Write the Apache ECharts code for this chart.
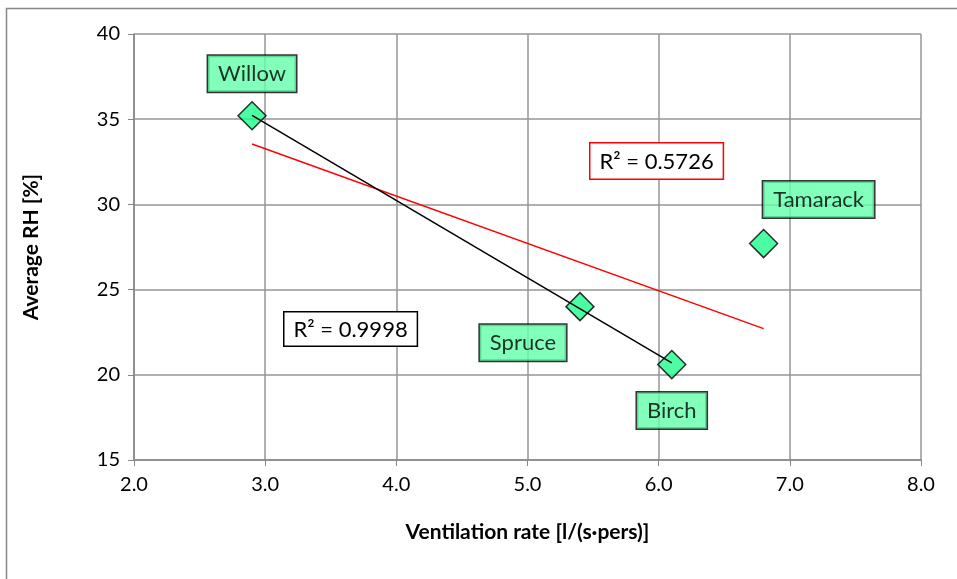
<!DOCTYPE html>
<html>
<head>
<meta charset="utf-8">
<script src="https://cdn.jsdelivr.net/npm/echarts@6/dist/echarts.min.js"></script>
<style>html,body{margin:0;padding:0;background:#fff}#c{width:957px;height:579px}</style>
</head>
<body>
<div id="c"></div>
<script>
// Data
const names = ['Willow', 'Spruce', 'Birch', 'Tamarack'];
const ventRate = [2.9, 5.4, 6.1, 6.8];
const avgRH = [35.2, 24.0, 20.6, 27.7];
const fitBlackNames = ['Willow', 'Spruce', 'Birch'];
const r2Black = 'R² = 0.9998';
const r2Red = 'R² = 0.5726';

// Label offsets (style)
const labelOffsets = { Willow: [0, -42], Spruce: [-57, 36], Birch: [0, 46], Tamarack: [55, -44] };

function linFit(xs, ys) {
  const n = xs.length;
  const mx = xs.reduce((a, b) => a + b, 0) / n;
  const my = ys.reduce((a, b) => a + b, 0) / n;
  let sxy = 0, sxx = 0;
  for (let i = 0; i < n; i++) { sxy += (xs[i] - mx) * (ys[i] - my); sxx += (xs[i] - mx) ** 2; }
  const b = sxy / sxx, a = my - b * mx;
  const x0 = Math.min(...xs), x1 = Math.max(...xs);
  return [[x0, a + b * x0], [x1, a + b * x1]];
}
const bIdx = fitBlackNames.map(n => names.indexOf(n));
const blackLine = linFit(bIdx.map(i => ventRate[i]), bIdx.map(i => avgRH[i]));
const redLine = linFit(ventRate, avgRH);

const FONT = 'Lato, "Open Sans", sans-serif';
const chart = echarts.init(document.getElementById('c'));
chart.setOption({
  animation: false,
  grid: { left: 134, right: 36, top: 34, bottom: 119 },
  xAxis: {
    type: 'value', min: 2, max: 8, interval: 1,
    name: 'Ventilation rate [l/(s·pers)]', nameLocation: 'middle', nameGap: 62,
    nameTextStyle: { fontFamily: FONT, fontWeight: 'bold', fontSize: 21, color: '#000' },
    axisLine: { lineStyle: { color: '#868686', width: 1.5 } },
    axisTick: { show: true, length: 6, lineStyle: { color: '#868686' } },
    axisLabel: { fontFamily: FONT, fontSize: 20, color: '#000', margin: 15, formatter: v => v.toFixed(1) },
    splitLine: { show: true, lineStyle: { color: '#969696', width: 1.5 } }
  },
  yAxis: {
    type: 'value', min: 15, max: 40, interval: 5,
    name: 'Average RH [%]', nameLocation: 'middle', nameGap: 92,
    nameTextStyle: { fontFamily: FONT, fontWeight: 'bold', fontSize: 21, color: '#000' },
    axisLine: { show: true, lineStyle: { color: '#868686', width: 1.5 } },
    axisTick: { show: true, length: 6, lineStyle: { color: '#868686' } },
    axisLabel: { fontFamily: FONT, fontSize: 20, color: '#000', margin: 14 },
    splitLine: { show: true, lineStyle: { color: '#969696', width: 1.5 } }
  },
  series: [
    {
      type: 'line', data: redLine, symbol: 'none', z: 3,
      lineStyle: { color: '#ff0000', width: 1.5 }
    },
    {
      type: 'scatter', symbol: 'diamond', symbolSize: 28, z: 4,
      itemStyle: { color: '#1ffc8c', borderColor: '#000', borderWidth: 1.5 },
      data: names.map((n, i) => ({
        name: n, value: [ventRate[i], avgRH[i]],
        label: {
          show: true, formatter: n, position: 'inside', offset: labelOffsets[n],
          fontFamily: FONT, fontSize: 22, color: '#000',
          backgroundColor: '#62ffaa', borderColor: '#000', borderWidth: 1.5,
          padding: [8, 10, 6, 10]
        }
      }))
    },
    {
      type: 'line', data: blackLine, symbol: 'none', z: 5,
      lineStyle: { color: '#000', width: 1.5 }
    }
  ],
  graphic: [
    { type: 'rect', left: 4, top: 6, shape: { width: 1000, height: 1000 }, style: { fill: 'none', stroke: '#888', lineWidth: 1.5 }, z: -10 },
    { type: 'text', left: 589, top: 142, z: 10,
      style: { text: r2Red, font: '22px ' + FONT, fill: '#000', backgroundColor: '#fff', borderColor: '#ff0000', borderWidth: 1.5, padding: [7, 9, 6, 9] } },
    { type: 'text', left: 283, top: 311, z: 10,
      style: { text: r2Black, font: '22px ' + FONT, fill: '#000', backgroundColor: '#fff', borderColor: '#000', borderWidth: 1.5, padding: [6, 9, 5, 9] } }
  ]
});
</script>
</body>
</html>
